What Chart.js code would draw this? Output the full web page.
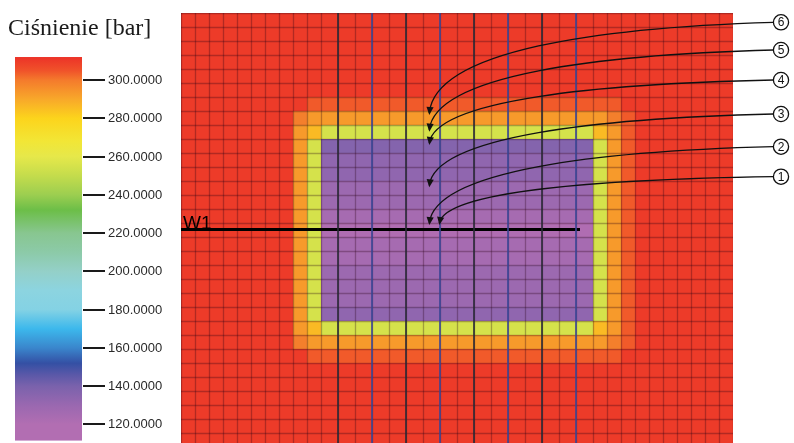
<!DOCTYPE html>
<html>
<head>
<meta charset="utf-8">
<script src="https://cdn.jsdelivr.net/npm/chart.js@4.4.1/dist/chart.umd.min.js"></script>
<style>
  html, body { margin: 0; padding: 0; background: #ffffff; }
  #wrap { width: 794px; height: 443px; position: relative; }
</style>
</head>
<body>
<div id="wrap"><canvas id="c"></canvas></div>
<script>
// Grid geometry: column widths and row heights (m)
const colWidths = [14, 14, 14, 14, 14, 14, 14, 14, 14, 14,
                   17, 17, 17, 17, 17, 17, 17, 17, 17, 17, 17, 17, 17, 17, 17, 17,
                   14, 14, 14, 14, 14, 14, 14, 14, 14, 14];
const rowHeights = [14, 14, 14, 14, 14, 14, 14, 14, 14, 14, 14, 14, 14, 14, 14, 14,
                    14, 14, 14, 14, 14, 14, 14, 14, 14, 14, 14, 14, 14, 14, 14];

// Pressure level codes (bar)
const pressureLevels = { R: 310, r: 304, o: 299, O: 293, Y: 286, G: 255,
                         a: 121, b: 125, c: 129, d: 133, e: 137 };

// Cell pressures, one string per grid row (top to bottom)
const pressureRows = [
  'RRRRRRRRRRRRRRRRRRRRRRRRRRRRRRRRRRRR',
  'RRRRRRRRRRRRRRRRRRRRRRRRRRRRRRRRRRRR',
  'RRRRRRRRRRRRRRRRRRRRRRRRRRRRRRRRRRRR',
  'RRRRRRRRRRRRRRRRRRRRRRRRRRRRRRRRRRRR',
  'RRRRRRRRRRRRRRRRRRRRRRRRRRRRRRRRRRRR',
  'RRRRRRRRRRRRRRRRRRRRRRRRRRRRRRRRRRRR',
  'RRRRRRRRRrrrrrrrrrrrrrrrrrrrRRRRRRRR',
  'RRRRRRRRoOOOOOOOOOOOOOOOOOOorRRRRRRR',
  'RRRRRRRROYGGGGGGGGGGGGGGGGYOrRRRRRRR',
  'RRRRRRRROGeeeeeeeeeeeeeeeeGOrRRRRRRR',
  'RRRRRRRROGddddddddddddddddGOrRRRRRRR',
  'RRRRRRRROGddddddddddddddddGOrRRRRRRR',
  'RRRRRRRROGccccccccccccccccGOrRRRRRRR',
  'RRRRRRRROGccccccccccccccccGOrRRRRRRR',
  'RRRRRRRROGbbbbbbbbbbbbbbbbGOrRRRRRRR',
  'RRRRRRRROGaaaaaaaaaaaaaaaaGOrRRRRRRR',
  'RRRRRRRROGbbbbbbbbbbbbbbbbGOrRRRRRRR',
  'RRRRRRRROGbbbbbbbbbbbbbbbbGOrRRRRRRR',
  'RRRRRRRROGccccccccccccccccGOrRRRRRRR',
  'RRRRRRRROGccccccccccccccccGOrRRRRRRR',
  'RRRRRRRROGccccccccccccccccGOrRRRRRRR',
  'RRRRRRRROGddddddddddddddddGOrRRRRRRR',
  'RRRRRRRROYGGGGGGGGGGGGGGGGYOrRRRRRRR',
  'RRRRRRRRoOOOOOOOOOOOOOOOOOOorRRRRRRR',
  'RRRRRRRRRrrrrrrrrrrrrrrrrrrrRRRRRRRR',
  'RRRRRRRRRRRRRRRRRRRRRRRRRRRRRRRRRRRR',
  'RRRRRRRRRRRRRRRRRRRRRRRRRRRRRRRRRRRR',
  'RRRRRRRRRRRRRRRRRRRRRRRRRRRRRRRRRRRR',
  'RRRRRRRRRRRRRRRRRRRRRRRRRRRRRRRRRRRR',
  'RRRRRRRRRRRRRRRRRRRRRRRRRRRRRRRRRRRR',
  'RRRRRRRRRRRRRRRRRRRRRRRRRRRRRRRRRRRR'
];

// Colour scale of the pressure legend (bar -> colour)
const cbStops = [
  [111, '#c474b4'], [120, '#b26eb2'], [130, '#9a68b0'], [140, '#7a62ac'],
  [146, '#5a58a8'], [152, '#3450a4'], [160, '#3a86cc'], [170, '#3cb8ec'],
  [180, '#84d2e4'], [190, '#8cd4e0'], [200, '#94d0c8'], [210, '#8ccaa8'],
  [220, '#88c690'], [232, '#6cbe48'], [240, '#9cce50'], [250, '#c4dc4c'],
  [260, '#e6e84a'], [268, '#f2e636'], [280, '#fcd41c'], [290, '#f8a82a'],
  [300, '#f47a2c'], [305, '#f0522a'], [312, '#ec3228']
];
const cbTicks = [120, 140, 160, 180, 200, 220, 240, 260, 280, 300];
const cbRange = [111.6, 312];
const cbTitle = 'Ciśnienie [bar]';

// Grid-line overlays (m from the left edge of the model)
const verticalLines = [157, 191, 225, 259, 293, 327, 361, 395];
const well = { name: 'W1', x: [0, 399], y: 216.5 };

// Numbered callouts: circle row (m) and arrow tips (m)
const calloutLabels = ['1', '2', '3', '4', '5', '6'];
const calloutY = [163.7, 133.7, 101, 67, 37, 9.3];
const calloutTipX = [258.3, 248.3, 248.3, 248.3, 248.3, 248.3];
const calloutTipY = [212, 212, 174.3, 132, 118.7, 102];
const calloutX = 600;

function hexToRgb(h) {
  return [parseInt(h.substr(1, 2), 16), parseInt(h.substr(3, 2), 16), parseInt(h.substr(5, 2), 16)];
}
function colorFor(v) {
  if (v <= cbStops[0][0]) return cbStops[0][1];
  for (let i = 1; i < cbStops.length; i++) {
    if (v <= cbStops[i][0]) {
      const [v0, c0] = cbStops[i - 1], [v1, c1] = cbStops[i];
      const t = (v - v0) / (v1 - v0);
      const a = hexToRgb(c0), b = hexToRgb(c1);
      return 'rgb(' + a.map((k, j) => Math.round(k + (b[j] - k) * t)).join(',') + ')';
    }
  }
  return cbStops[cbStops.length - 1][1];
}

function edges(sizes) {
  const out = [0];
  sizes.forEach(s => out.push(out[out.length - 1] + s));
  return out;
}
const xEdges = edges(colWidths);
const yEdges = edges(rowHeights);

// Filled cells and cell borders
const pressureGrid = {
  id: 'pressureGrid',
  beforeDatasetsDraw(chart) {
    const { ctx, chartArea: a, scales: { x, y } } = chart;
    ctx.save();
    ctx.beginPath();
    ctx.rect(a.left, a.top, a.right - a.left, a.bottom - a.top);
    ctx.clip();
    for (let r = 0; r < rowHeights.length; r++) {
      const py0 = Math.round(y.getPixelForValue(yEdges[r]));
      const py1 = Math.round(y.getPixelForValue(yEdges[r + 1]));
      for (let c = 0; c < colWidths.length; c++) {
        const px0 = Math.round(x.getPixelForValue(xEdges[c]));
        const px1 = Math.round(x.getPixelForValue(xEdges[c + 1]));
        ctx.fillStyle = colorFor(pressureLevels[pressureRows[r][c]]);
        ctx.fillRect(px0, py0, px1 - px0, py1 - py0);
      }
    }
    ctx.strokeStyle = 'rgba(40,0,20,0.3)';
    ctx.lineWidth = 1.3;
    xEdges.forEach(v => {
      const p = Math.round(x.getPixelForValue(v)) + 0.5;
      ctx.beginPath(); ctx.moveTo(p, a.top); ctx.lineTo(p, a.bottom); ctx.stroke();
    });
    yEdges.forEach(v => {
      const p = Math.round(y.getPixelForValue(v)) + 0.5;
      ctx.beginPath(); ctx.moveTo(a.left, p); ctx.lineTo(a.right, p); ctx.stroke();
    });
    ctx.restore();
  }
};

// Pressure legend (colour bar) on the 'cb' scale
const pressureLegend = {
  id: 'pressureLegend',
  afterDraw(chart) {
    const { ctx } = chart;
    const s = chart.scales.cb;
    const top = s.getPixelForValue(cbRange[1]);
    const bottom = s.getPixelForValue(cbRange[0]);
    const left = 15, right = 82;
    ctx.save();
    const g = ctx.createLinearGradient(0, top, 0, bottom);
    cbStops.forEach(([v, col]) => {
      const o = (cbRange[1] - v) / (cbRange[1] - cbRange[0]);
      if (o >= 0 && o <= 1) g.addColorStop(o, col);
    });
    ctx.fillStyle = g;
    ctx.fillRect(left, top, right - left, bottom - top);
    ctx.strokeStyle = '#1a1a1a';
    ctx.lineWidth = 2;
    ctx.fillStyle = '#2a2a2a';
    ctx.font = '13px "Liberation Sans", Arial, sans-serif';
    ctx.textBaseline = 'middle';
    ctx.textAlign = 'left';
    cbTicks.forEach(v => {
      const p = Math.round(s.getPixelForValue(v));
      ctx.beginPath(); ctx.moveTo(right + 1, p); ctx.lineTo(105, p); ctx.stroke();
      ctx.fillText(v.toFixed(4), 108, p + 0.5);
    });
    ctx.fillStyle = '#1a1a1a';
    ctx.font = '24px "Liberation Serif", "Times New Roman", serif';
    ctx.textBaseline = 'alphabetic';
    ctx.fillText(cbTitle, 8, 35);
    ctx.restore();
  }
};

// Well label and numbered callouts with curved arrows
const annotations = {
  id: 'annotations',
  afterDatasetsDraw(chart) {
    const { ctx, scales: { x, y } } = chart;
    ctx.save();
    ctx.fillStyle = '#000';
    ctx.font = '19px "Liberation Sans", Arial, sans-serif';
    ctx.textBaseline = 'alphabetic';
    ctx.textAlign = 'left';
    ctx.fillText(well.name, x.getPixelForValue(well.x[0]) + 2, y.getPixelForValue(well.y) - 0.5);

    calloutLabels.forEach((lab, i) => {
      const cx = x.getPixelForValue(calloutX);
      const cy = y.getPixelForValue(calloutY[i]);
      const tx = x.getPixelForValue(calloutTipX[i]);
      const ty = y.getPixelForValue(calloutTipY[i]);
      const r = 7.6;
      const p0 = [cx - r, cy];
      const p1 = [600, cy + 0.055 * (ty - cy)];
      const p2 = [tx + 6, cy + 0.3 * (ty - cy)];
      ctx.strokeStyle = '#111';
      ctx.lineWidth = 1.3;
      ctx.beginPath();
      ctx.moveTo(p0[0], p0[1]);
      ctx.bezierCurveTo(p1[0], p1[1], p2[0], p2[1], tx, ty - 2);
      ctx.stroke();
      // arrow head along the end tangent
      const ang = Math.atan2(ty - p2[1], tx - p2[0]);
      const L = 8, W = 3.6;
      ctx.fillStyle = '#111';
      ctx.beginPath();
      ctx.moveTo(tx, ty);
      ctx.lineTo(tx - L * Math.cos(ang) + W * Math.sin(ang), ty - L * Math.sin(ang) - W * Math.cos(ang));
      ctx.lineTo(tx - L * Math.cos(ang) - W * Math.sin(ang), ty - L * Math.sin(ang) + W * Math.cos(ang));
      ctx.closePath();
      ctx.fill();
      // numbered circle
      ctx.beginPath();
      ctx.arc(cx, cy, r, 0, Math.PI * 2);
      ctx.fillStyle = '#fff';
      ctx.fill();
      ctx.stroke();
      ctx.fillStyle = '#111';
      ctx.font = '12px "Liberation Sans", Arial, sans-serif';
      ctx.textAlign = 'center';
      ctx.textBaseline = 'middle';
      ctx.fillText(lab, cx, cy + 0.5);
      ctx.textAlign = 'left';
    });
    ctx.restore();
  }
};

const lineColors = ['#2a2a36', '#3a4696'];
const datasets = verticalLines.map((v, i) => ({
  data: [{ x: v, y: yEdges[0] }, { x: v, y: yEdges[yEdges.length - 1] }],
  borderColor: lineColors[i % 2],
  borderWidth: 1.6,
  pointRadius: 0,
  showLine: true,
  fill: false
}));
datasets.push({
  data: [{ x: well.x[0], y: well.y }, { x: well.x[1], y: well.y }],
  borderColor: '#000',
  borderWidth: 3,
  pointRadius: 0,
  showLine: true,
  fill: false
});

new Chart(document.getElementById('c'), {
  type: 'scatter',
  data: { datasets },
  options: {
    responsive: true,
    maintainAspectRatio: false,
    animation: false,
    devicePixelRatio: 1,
    layout: { padding: { left: 181, right: 61, top: 13, bottom: 0 } },
    plugins: { legend: { display: false }, tooltip: { enabled: false } },
    scales: {
      x: { type: 'linear', display: false, min: 0, max: 552 },
      y: { type: 'linear', display: false, reverse: true, min: 0, max: 430 },
      cb: { type: 'linear', axis: 'y', display: false, min: 110.33, max: 335 }
    }
  },
  plugins: [pressureGrid, pressureLegend, annotations]
});
</script>
</body>
</html>
